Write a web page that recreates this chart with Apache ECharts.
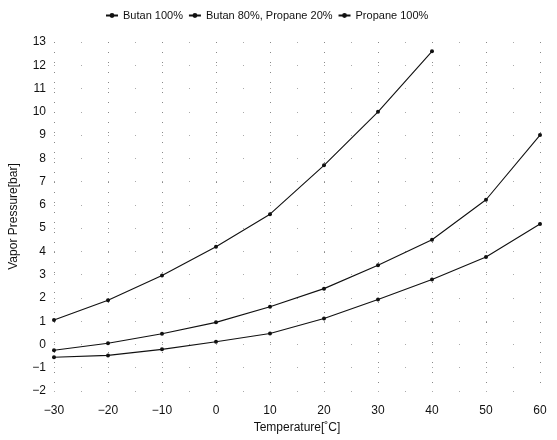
<!DOCTYPE html>
<html><head><meta charset="utf-8">
<script src="https://cdn.jsdelivr.net/npm/echarts@6/dist/echarts.min.js"></script>
<style>html,body{margin:0;padding:0;background:#fff}#c{width:557px;height:440px}</style>
</head><body><div id="c"></div>
<script>
const temps = [-30, -20, -10, 0, 10, 20, 30, 40, 50, 60];
const butan100 = [-0.55, -0.47, -0.21, 0.12, 0.47, 1.12, 1.93, 2.79, 3.76, 5.18];
const mix80_20 = [-0.25, 0.05, 0.46, 0.95, 1.62, 2.4, 3.4, 4.5, 6.22, 9.0];
const propane100 = [1.05, 1.9, 2.96, 4.2, 5.6, 7.7, 10.0, 12.6, null, null];
const seriesNames = ['Butan 100%', 'Butan 80%, Propane 20%', 'Propane 100%'];
const xTicks = {min: -30, max: 60, step: 10};
const yTicks = {min: -2, max: 13, step: 1};

const font = 'Liberation Sans, Arial, sans-serif';
const mk = (name, vals) => ({
  name, type: 'line', data: temps.map((t, i) => [t, vals[i]]).filter(p => p[1] !== null),
  symbol: 'circle', symbolSize: 4, showSymbol: true,
  lineStyle: {color: '#111', width: 1.1}, itemStyle: {color: '#111'},
  smooth: false, animation: false
});
const chart = echarts.init(document.getElementById('c'));
chart.setOption({
  backgroundColor: '#fff',
  animation: false,
  legend: {
    top: 5, left: 100, itemWidth: 12, itemHeight: 6, itemGap: 5,
    textStyle: {fontFamily: font, fontSize: 11, color: '#111'},
    data: seriesNames
  },
  grid: {left: 53, right: 17, top: 42, bottom: 49},
  xAxis: {
    type: 'value', min: xTicks.min, max: xTicks.max, interval: xTicks.step,
    name: 'Temperature[˚C]', nameLocation: 'middle', nameGap: 31,
    nameTextStyle: {fontFamily: font, fontSize: 12, color: '#111'},
    axisLine: {show: false}, axisTick: {show: false},
    axisLabel: {fontFamily: font, fontSize: 12, color: '#111', margin: 14,
      formatter: v => v < 0 ? '\u2212' + Math.abs(v) : String(v)},
    splitLine: {show: true, lineStyle: {color: '#888', type: [1, 9], width: 1}}
  },
  yAxis: {
    type: 'value', min: yTicks.min, max: yTicks.max, interval: yTicks.step,
    name: 'Vapor Pressure[bar]', nameLocation: 'middle', nameGap: 34, nameRotate: 90,
    nameTextStyle: {fontFamily: font, fontSize: 12, color: '#111'},
    axisLine: {show: false}, axisTick: {show: false},
    axisLabel: {fontFamily: font, fontSize: 12, color: '#111', margin: 8,
      formatter: v => v < 0 ? '\u2212' + Math.abs(v) : String(v)},
    splitLine: {show: true, lineStyle: {color: '#aaa', type: [1, 26], width: 1}}
  },
  series: [mk(seriesNames[0], butan100), mk(seriesNames[1], mix80_20), mk(seriesNames[2], propane100)]
});
</script></body></html>
